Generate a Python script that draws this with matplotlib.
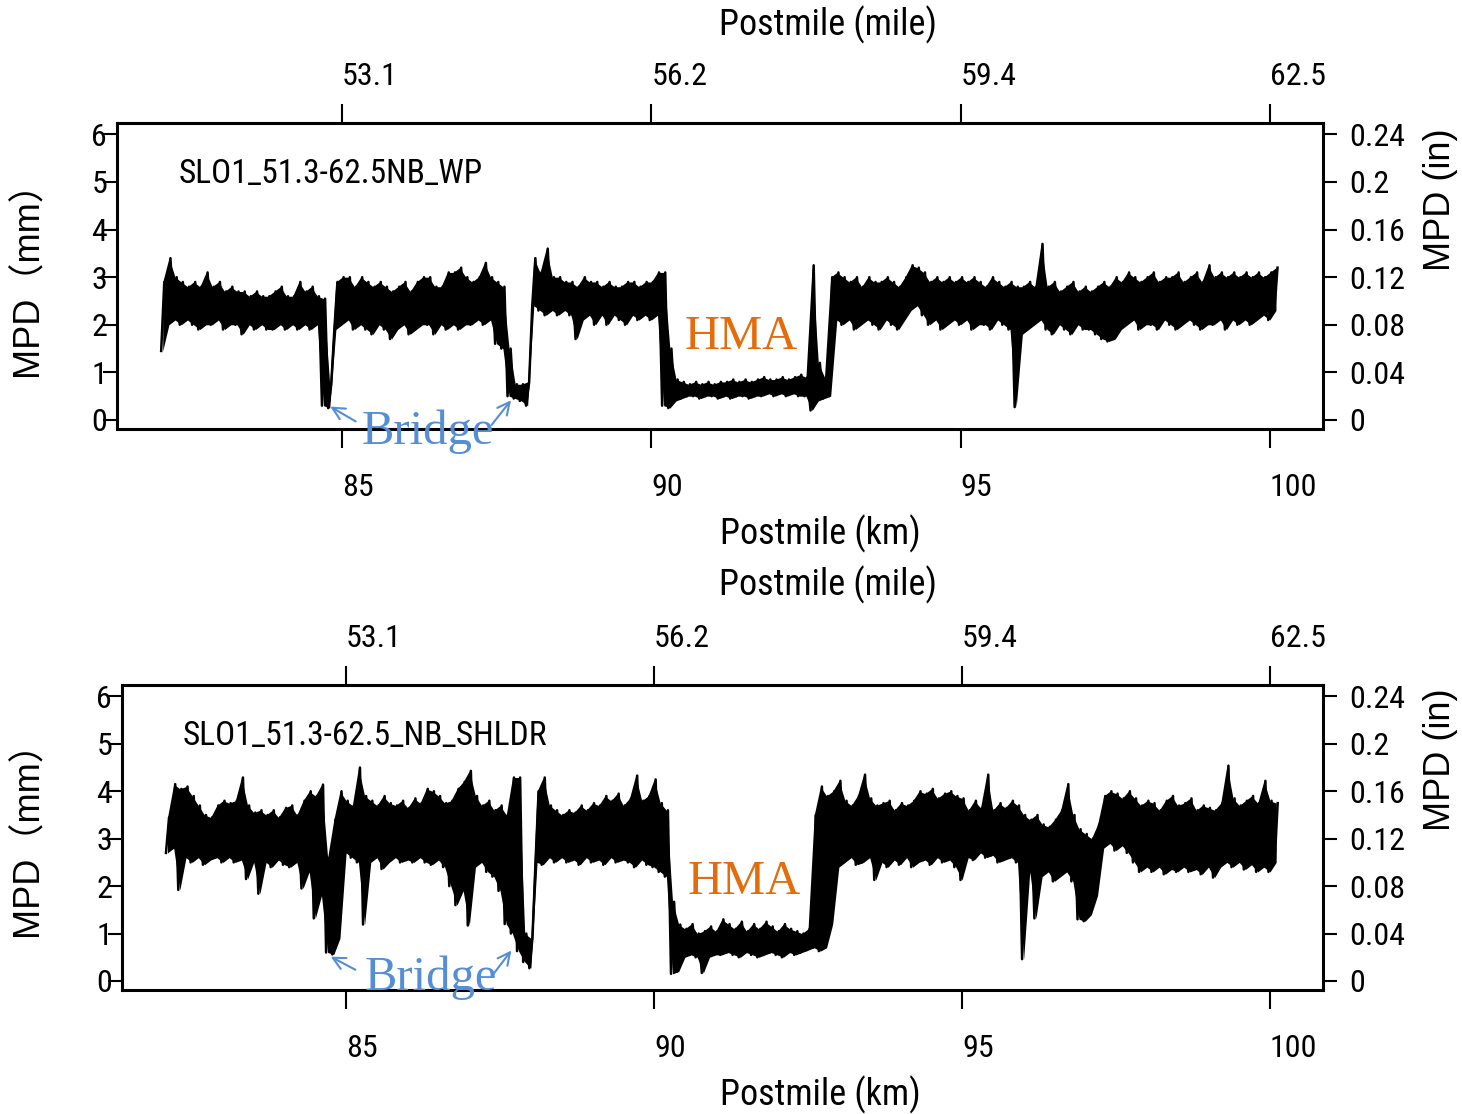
import numpy as np
import matplotlib
matplotlib.use('Agg')
import matplotlib.pyplot as plt
from matplotlib import font_manager

# fonts: narrow sans for ticks/titles, Times-like serif for the notes
installed = {f.name for f in font_manager.fontManager.ttflist}
narrow, fs = 'Liberation Sans', 0.86
for cand in ['Liberation Sans Narrow', 'Arial Narrow', 'Roboto Condensed']:
    if cand in installed:
        narrow, fs = cand, 1.0
        break
plt.rcParams['font.family'] = [narrow, 'DejaVu Sans']

# postmile sampling grid (km), one envelope cell every 0.1 km
km = np.round(np.arange(82.1, 100.15, 0.1), 1)

km_ticks = [85, 90, 95, 100]
mile_labels = ['53.1', '56.2', '59.4', '62.5']
mm_ticks = [0, 1, 2, 3, 4, 5, 6]
in_ticks = [0, 0.04, 0.08, 0.12, 0.16, 0.2, 0.24]
in_labels = ['0', '0.04', '0.08', '0.12', '0.16', '0.2', '0.24']

# wheel path: low / high of the MPD trace in each cell (mm)
wp_lo = [1.45, 2.0, 2.1, 2.0, 2.1, 2.0, 1.9, 2.0, 2.0, 2.1,
         1.9, 2.0, 2.0, 1.8, 2.0, 1.9, 2.0, 1.9, 1.9, 2.0,
         1.9, 2.0, 1.9, 2.0, 1.9, 2.0, 0.3, 0.25, 1.9, 2.0,
         2.1, 1.9, 2.0, 1.9, 1.8, 2.0, 1.9, 1.7, 1.9, 2.0,
         1.8, 1.9, 2.0, 2.0, 1.8, 2.0, 1.9, 2.0, 1.9, 2.0,
         2.0, 2.1, 2.0, 2.1, 1.6, 1.5, 0.5, 0.45, 0.4, 0.3,
         2.4, 2.3, 2.2, 2.3, 2.2, 2.3, 2.2, 1.7, 2.1, 2.2,
         2.0, 2.2, 2.0, 2.2, 2.1, 2.0, 2.2, 2.1, 2.2, 2.1,
         2.2, 0.3, 0.25, 0.4, 0.45, 0.5, 0.5, 0.45, 0.5, 0.5,
         0.45, 0.5, 0.45, 0.5, 0.5, 0.45, 0.5, 0.5, 0.55, 0.5,
         0.55, 0.5, 0.55, 0.5, 0.5, 0.2, 0.4, 0.45, 0.5, 2.1,
         2.0, 2.1, 1.9, 2.0, 2.1, 2.0, 1.9, 2.1, 2.0, 1.9,
         2.1, 2.3, 2.4, 2.2, 2.0, 2.1, 1.9, 2.0, 2.1, 2.0,
         2.1, 1.9, 2.0, 2.0, 1.9, 2.1, 2.0, 1.9, 0.27, 1.8,
         1.9, 2.0, 2.1, 1.9, 1.8, 2.0, 1.9, 1.8, 2.0, 1.9,
         1.9, 1.8, 1.7, 1.65, 1.7, 1.9, 2.0, 2.1, 1.9, 2.0,
         2.0, 1.9, 2.1, 2.0, 1.9, 2.0, 2.1, 2.0, 1.9, 2.0,
         2.0, 2.1, 1.9, 2.1, 2.0, 2.1, 2.0, 2.1, 2.2, 2.1,
         2.3]
wp_hi = [2.9, 3.4, 3.0, 2.9, 2.8, 2.9, 2.8, 3.1, 2.8, 2.9,
         2.7, 2.8, 2.7, 2.7, 2.6, 2.7, 2.6, 2.6, 2.7, 2.8,
         2.6, 2.6, 2.9, 2.7, 2.8, 2.6, 2.55, 0.75, 2.9, 3.0,
         3.0, 2.8, 3.0, 2.9, 2.8, 2.9, 2.8, 2.7, 2.8, 2.9,
         2.7, 2.9, 3.0, 3.0, 2.8, 2.8, 3.1, 3.1, 3.2, 3.0,
         2.9, 3.0, 3.3, 3.0, 2.9, 2.8, 1.5, 0.75, 0.75, 0.8,
         3.4, 3.1, 3.6, 3.0, 3.0, 2.9, 2.9, 2.8, 3.0, 2.9,
         2.9, 2.8, 2.9, 2.8, 2.8, 2.9, 2.9, 2.8, 2.9, 2.9,
         3.1, 3.1, 1.5, 0.85, 0.8, 0.75, 0.8, 0.75, 0.8, 0.75,
         0.8, 0.8, 0.85, 0.8, 0.85, 0.8, 0.85, 0.9, 0.85, 0.85,
         0.9, 0.85, 0.9, 0.95, 0.9, 3.25, 1.2, 0.9, 3.0, 3.1,
         3.0, 2.9, 3.0, 2.8, 3.0, 2.9, 2.9, 3.0, 2.9, 2.8,
         3.0, 3.25, 3.2, 3.1, 2.9, 3.0, 2.9, 3.0, 2.9, 3.0,
         2.9, 3.0, 2.9, 2.8, 3.0, 2.9, 2.8, 2.9, 2.8, 2.8,
         2.9, 2.8, 3.7, 2.8, 2.9, 2.7, 2.8, 2.9, 2.7, 2.8,
         2.7, 2.8, 2.9, 2.8, 3.0, 2.9, 3.1, 3.0, 2.9, 3.0,
         3.1, 2.9, 3.0, 3.0, 3.1, 2.9, 3.0, 3.1, 2.9, 3.25,
         3.0, 3.1, 3.0, 3.1, 3.0, 3.1, 3.0, 3.1, 3.0, 3.1,
         3.2]

# shoulder: low / high of the MPD trace in each cell (mm)
sh_lo = [2.7, 2.8, 1.92, 2.6, 2.5, 2.6, 2.45, 2.55, 2.6, 2.5,
         2.6, 2.5, 2.55, 2.15, 2.5, 1.84, 2.5, 2.4, 2.55, 2.45,
         2.4, 2.5, 1.95, 2.3, 1.32, 1.8, 0.6, 0.56, 0.9, 2.7,
         2.6, 2.5, 1.19, 2.5, 2.6, 2.36, 2.5, 2.6, 2.5, 2.55,
         2.5, 2.6, 2.5, 2.45, 2.55, 2.4, 2.0, 1.6, 1.9, 1.17,
         2.4, 2.5, 2.3, 2.2, 1.9, 1.2, 1.0, 0.63, 0.4, 0.27,
         2.5, 2.45, 2.6, 2.5, 2.6, 2.5, 2.55, 2.45, 2.6, 2.5,
         2.55, 2.45, 2.6, 2.5, 2.55, 2.5, 2.4, 2.55, 2.45, 2.4,
         2.3, 2.2, 0.15, 0.2, 0.5, 0.55, 0.5, 0.17, 0.5, 0.55,
         0.55, 0.6, 0.55, 0.5, 0.6, 0.55, 0.5, 0.55, 0.6, 0.55,
         0.5, 0.6, 0.55, 0.6, 0.65, 0.7, 0.63, 0.7, 1.2, 2.4,
         2.5, 2.6, 2.45, 2.5, 2.6, 2.13, 2.5, 2.4, 2.55, 2.45,
         2.6, 2.4, 2.5, 2.55, 2.45, 2.6, 2.5, 2.55, 2.4, 2.13,
         2.6, 2.55, 2.7, 2.6, 2.65, 2.5, 2.55, 2.6, 2.5, 0.46,
         2.3, 1.32, 2.2, 2.3, 2.1, 2.2, 2.3, 2.1, 1.3, 1.26,
         1.4, 1.8, 2.8, 2.9, 2.75, 2.85, 2.7, 2.5, 2.3, 2.4,
         2.3, 2.4, 2.25, 2.35, 2.3, 2.4, 2.3, 2.35, 2.25, 2.4,
         2.18, 2.4, 2.5, 2.4, 2.5, 2.35, 2.45, 2.3, 2.4, 2.3,
         2.5]
sh_hi = [3.45, 4.15, 4.05, 4.1, 3.9, 3.7, 3.5, 3.45, 3.7, 3.8,
         3.75, 3.8, 4.29, 3.7, 3.55, 3.6, 3.5, 3.6, 3.45, 3.65,
         3.7, 3.5, 3.8, 4.0, 3.9, 4.14, 2.6, 3.4, 4.0, 3.8,
         3.7, 4.5, 3.9, 3.8, 3.7, 3.9, 3.75, 3.7, 3.8, 3.65,
         3.85, 3.75, 4.05, 4.0, 3.9, 3.75, 3.8, 4.05, 4.2, 4.43,
         3.9, 3.7, 3.8, 3.6, 3.7, 3.5, 4.29, 4.29, 1.0, 0.9,
         4.0, 4.29, 3.7, 3.6, 3.5, 3.6, 3.55, 3.7, 3.6, 3.75,
         3.7, 3.9, 3.8, 3.95, 3.7, 3.85, 4.33, 3.8, 3.9, 4.25,
         3.75, 3.6, 1.67, 1.19, 1.1, 1.2, 1.0, 1.05, 1.15, 1.05,
         1.3, 1.2, 1.1, 1.25, 1.05, 1.2, 1.1, 1.25, 1.15, 1.05,
         1.2, 1.1, 1.05, 1.0, 1.1, 3.5, 4.1, 3.9, 4.0, 4.22,
         3.8, 3.7, 3.9, 4.35, 3.85, 3.7, 3.75, 3.8, 3.6, 3.75,
         3.7, 3.8, 4.0, 3.95, 4.05, 3.85, 3.95, 4.0, 3.9, 3.85,
         3.6, 3.8, 3.65, 4.35, 3.6, 3.75, 3.65, 3.8, 3.7, 3.5,
         3.4, 3.5, 3.3, 3.25, 3.4, 3.6, 4.15, 3.5, 3.2, 3.1,
         3.0, 3.3, 3.9, 4.0, 3.95, 3.85, 4.0, 3.85, 3.7, 3.8,
         3.75, 3.6, 3.8, 3.9, 3.7, 3.75, 3.85, 3.6, 3.7, 3.65,
         3.6, 3.75, 4.54, 3.85, 3.7, 3.8, 3.9, 3.75, 4.22, 3.8,
         3.75]

panels = [
    dict(lo=wp_lo, hi=wp_hi, name='SLO1_51.3-62.5NB_WP',
         rect=[0.0800, 0.6149, 0.8249, 0.2747], hma_y=1.75, br_y=-0.25,
         arrows=[((84.77, 0.31), (85.26, -0.06)), ((87.76, 0.46), (87.39, -0.15))],
         label_y=[25, 534], ylab_y=[270, 200]),
    dict(lo=sh_lo, hi=sh_hi, name='SLO1_51.3-62.5_NB_SHLDR',
         rect=[0.0834, 0.1113, 0.8215, 0.2738], hma_y=2.09, br_y=0.06,
         arrows=[((84.71, 0.54), (85.19, 0.21)), ((87.71, 0.69), (87.34, 0.06))],
         label_y=[585, 1095], ylab_y=[830, 760]),
]

W, H = 1462, 1114
fig = plt.figure(figsize=(W / 100, H / 100), dpi=100)
fig.patch.set_facecolor('white')
blue = '#558ED5'
orange = '#E46C0A'

for p in panels:
    ax = fig.add_axes(p['rect'])
    # solid band between the cell lows and highs, with a spiky outline
    ax.fill_between(km, p['lo'], p['hi'], color='black', lw=0)
    xs = np.column_stack([km - 0.025, km + 0.025]).ravel()
    ys = np.column_stack([p['lo'], p['hi']]).ravel()
    ax.plot(xs, ys, color='black', lw=1.8)

    ax.set_xlim(81.36, 100.86)
    ax.set_ylim(-0.19, 6.24)
    for s in ax.spines.values():
        s.set_linewidth(2.2)

    ax.set_xticks(km_ticks)
    ax.set_xticklabels([str(t) for t in km_ticks], ha='left')
    ax.tick_params(axis='x', direction='out', length=14, width=1.5,
                   labelsize=23 * fs, pad=18)
    ax.set_yticks(mm_ticks)
    ax.tick_params(axis='y', direction='out', length=10, width=1.5,
                   labelsize=23 * fs, pad=-3)

    top = ax.secondary_xaxis('top')
    top.set_xticks(km_ticks)
    top.set_xticklabels(mile_labels, ha='left')
    top.tick_params(direction='out', length=14, width=1.5,
                    labelsize=23 * fs, pad=9)

    right = ax.secondary_yaxis('right', functions=(lambda v: v / 25.0,
                                                   lambda v: v * 25.0))
    right.set_yticks(in_ticks)
    right.set_yticklabels(in_labels)
    right.tick_params(direction='out', length=10, width=1.5,
                      labelsize=23 * fs, pad=9)

    ax.text(82.35, 5.17, p['name'], fontsize=24 * fs, va='center', ha='left')
    ax.text(91.46, p['hma_y'], 'HMA', family='Liberation Serif',
            fontsize=35, color=orange, ha='center', va='center')
    ax.text(86.38, p['br_y'], 'Bridge', family='Liberation Serif',
            fontsize=35, color=blue, ha='center', va='center', clip_on=False)
    for head, tail in p['arrows']:
        ax.annotate('', xy=head, xytext=tail, annotation_clip=False,
                    arrowprops=dict(arrowstyle='->', color=blue, lw=1.5,
                                    mutation_scale=22))

    fig.text(828 / W, 1 - p['label_y'][0] / H, 'Postmile (mile)',
             fontsize=26 * fs, ha='center', va='center')
    fig.text(820 / W, 1 - p['label_y'][1] / H, 'Postmile (km)',
             fontsize=26 * fs, ha='center', va='center')
    fig.text(28 / W, 1 - p['ylab_y'][0] / H, 'MPD（mm）',
             family=['Liberation Sans', 'Noto Sans CJK SC'],
             fontsize=26, rotation=90, ha='center', va='center')
    fig.text(1440 / W, 1 - p['ylab_y'][1] / H, 'MPD (in)',
             family=['Liberation Sans', 'DejaVu Sans'],
             fontsize=26, rotation=90, ha='center', va='center')

fig.savefig('out.png', dpi=100, facecolor='white')
